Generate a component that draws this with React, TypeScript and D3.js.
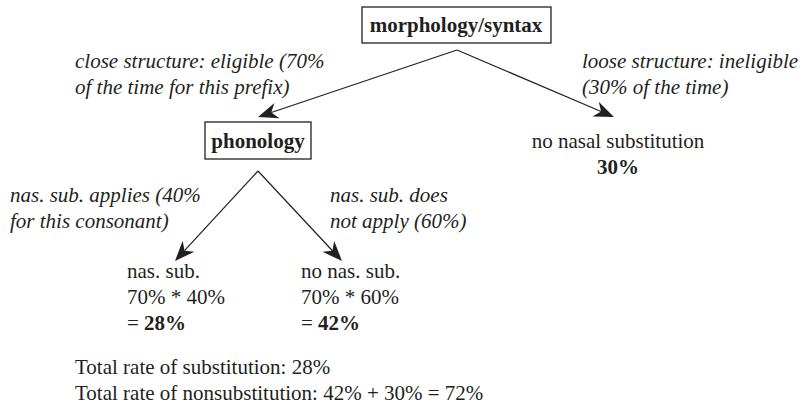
import React from 'react';
import * as d3 from 'd3';

// tree content
const nodeIds = ['root', 'phon', 'noSubLoose', 'sub', 'noSub'];
const nodeLines: string[][] = [
  ['morphology/syntax'],
  ['phonology'],
  ['no nasal substitution'],
  ['nas. sub.', '70% * 40%'],
  ['no nas. sub.', '70% * 60%'],
];
const nodeResults = ['', '', '30%', '28%', '42%'];
const boxedNodes = ['root', 'phon'];

const edgeFrom = ['root', 'root', 'phon', 'phon'];
const edgeTo = ['phon', 'noSubLoose', 'sub', 'noSub'];
const edgeLabels: string[][] = [
  ['close structure: eligible (70%', 'of the time for this prefix)'],
  ['loose structure: ineligible', '(30% of the time)'],
  ['nas. sub. applies (40%', 'for this consonant)'],
  ['nas. sub. does', 'not apply (60%)'],
];

const totalLines = [
  'Total rate of substitution: 28%',
  'Total rate of nonsubstitution: 42% + 30% = 72%',
];

// layout
const W = 802;
const H = 409;
const INK = '#231f20';
const LH = 26;
const txt = {fontFamily: "'Liberation Serif'", fontSize: 21};

const nodePos: Record<string, {x: number, y: number, anchor: string}> = {
  root: {x: 456, y: 32, anchor: 'middle'},
  phon: {x: 258, y: 148, anchor: 'middle'},
  noSubLoose: {x: 618, y: 148, anchor: 'middle'},
  sub: {x: 127, y: 278, anchor: 'start'},
  noSub: {x: 301, y: 278, anchor: 'start'},
};
const boxRect: Record<string, [number, number, number, number]> = {
  root: [362, 7, 551, 43],
  phon: [205, 122, 311, 159],
};
const edgeStart: Record<string, [number, number]> = {
  root: [457, 50],
  phon: [258, 171],
};
const edgeEnd: Record<string, [number, number]> = {
  phon: [258, 117],
  noSubLoose: [614, 117],
  sub: [175, 261],
  noSub: [342, 261],
};
const labelPos: [number, number][] = [[75, 68], [582, 68], [10, 202], [330, 202]];

function arrowHead(x1: number, y1: number, x2: number, y2: number) {
  const a = Math.atan2(y2 - y1, x2 - x1);
  const len = 20, half = 8, notch = 14;
  const ux = Math.cos(a), uy = Math.sin(a);
  const px = -uy, py = ux;
  const p = d3.path();
  p.moveTo(x2, y2);
  p.lineTo(x2 - ux * len + px * half, y2 - uy * len + py * half);
  p.lineTo(x2 - ux * notch, y2 - uy * notch);
  p.lineTo(x2 - ux * len - px * half, y2 - uy * len - py * half);
  p.closePath();
  return p.toString();
}

export default function App() {
  return (
    <svg width={W} height={H} style={{position: 'absolute', left: 0, top: 0}}>
      {edgeFrom.map((from, i) => {
        const [x1, y1] = edgeStart[from];
        const [x2, y2] = edgeEnd[edgeTo[i]];
        const a = Math.atan2(y2 - y1, x2 - x1);
        return (
          <g key={`e${i}`}>
            <line x1={x1} y1={y1} x2={x2 - Math.cos(a) * 14} y2={y2 - Math.sin(a) * 14}
                  stroke={INK} strokeWidth={1.2}/>
            <path d={arrowHead(x1, y1, x2, y2)} fill={INK}/>
            <text x={labelPos[i][0]} y={labelPos[i][1]} fill={INK}
                  style={{...txt, fontStyle: 'italic'}}>
              {edgeLabels[i].map((l, j) => (
                <tspan key={j} x={labelPos[i][0]} dy={j === 0 ? 0 : LH}>{l}</tspan>
              ))}
            </text>
          </g>
        );
      })}
      {nodeIds.map((id, i) => {
        const pos = nodePos[id];
        const boxed = boxedNodes.includes(id);
        const r = boxRect[id];
        return (
          <g key={id}>
            {boxed && (
              <rect x={r[0]} y={r[1]} width={r[2] - r[0]} height={r[3] - r[1]}
                    fill="none" stroke={INK} strokeWidth={1.3}/>
            )}
            <text x={pos.x} y={pos.y} textAnchor={pos.anchor} fill={INK}
                  style={{...txt, fontWeight: boxed ? 'bold' : 'normal'}}>
              {nodeLines[i].map((l, j) => (
                <tspan key={j} x={pos.x} dy={j === 0 ? 0 : LH}>{l}</tspan>
              ))}
            </text>
            {nodeResults[i] && (
              <text x={pos.x} y={pos.y + nodeLines[i].length * LH} textAnchor={pos.anchor}
                    fill={INK} style={txt}>
                {pos.anchor === 'start' && '= '}
                <tspan fontWeight="bold">{nodeResults[i]}</tspan>
              </text>
            )}
          </g>
        );
      })}
      <text x={75} y={374} fill={INK} style={txt}>
        {totalLines.map((l, j) => (
          <tspan key={j} x={75} dy={j === 0 ? 0 : LH}>{l}</tspan>
        ))}
      </text>
    </svg>
  );
}
